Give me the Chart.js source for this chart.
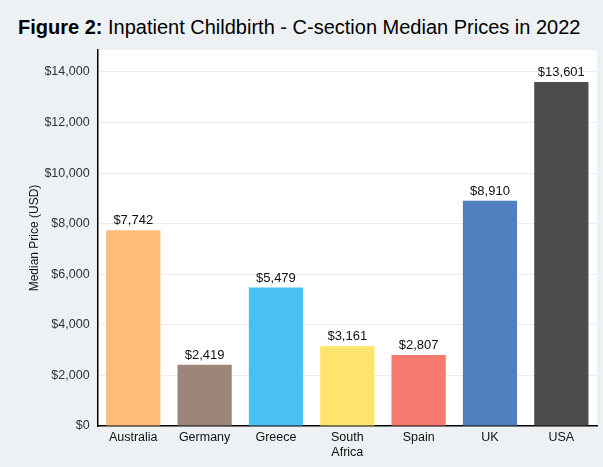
<!DOCTYPE html>
<html>
    <head>
        <title>C-section Median Prices</title>
        <script src="https://cdn.jsdelivr.net/npm/chart.js"></script>
        <style>
            html, body { margin: 0; padding: 0; background: #edf1f4; }
            .wrap { position: relative; width: 603px; height: 467px; }
            .title { position: absolute; left: 18px; top: 16px; font-family: "Liberation Sans", Arial, sans-serif; font-size: 20px; color: #000; white-space: nowrap; }
            canvas { position: absolute; left: 0; top: 0; }
        </style>
    </head>
    <body>
        <div class="wrap">
            <div class="title"><b>Figure 2:</b> Inpatient Childbirth - C-section Median Prices in 2022</div>
            <canvas id="priceChart" width="603" height="467"></canvas>
        </div>
        <script>
            const countries = ['Australia', 'Germany', 'Greece', ['South', 'Africa'], 'Spain', 'UK', 'USA'];
            const medianPrices = [7742, 2419, 5479, 3161, 2807, 8910, 13601];
            const barColors = ['#ffbb78', '#9e857a', '#4bbef2', '#ffe46e', '#f67b6e', '#5080c0', '#4c4c4c'];
            const yTicks = [0, 2000, 4000, 6000, 8000, 10000, 12000, 14000];

            const fmt = v => '$' + v.toLocaleString('en-US');

            // white plot area + value labels above bars
            const plotBg = {
                id: 'plotBg',
                beforeDraw(chart) {
                    const { ctx, chartArea: a } = chart;
                    ctx.save();
                    ctx.fillStyle = '#ffffff';
                    ctx.fillRect(a.left, a.top, a.right - a.left, a.bottom - a.top);
                    ctx.restore();
                }
            };
            const valueLabels = {
                id: 'valueLabels',
                afterDatasetsDraw(chart) {
                    const { ctx } = chart;
                    const meta = chart.getDatasetMeta(0);
                    ctx.save();
                    ctx.font = '13px "Liberation Sans", Arial, sans-serif';
                    ctx.fillStyle = '#111';
                    ctx.textAlign = 'center';
                    ctx.textBaseline = 'bottom';
                    meta.data.forEach((bar, i) => {
                        ctx.fillText(fmt(medianPrices[i]), bar.x, bar.y - 3);
                    });
                    ctx.restore();
                }
            };

            Chart.defaults.font.family = '"Liberation Sans", Arial, sans-serif';

            new Chart(document.getElementById('priceChart'), {
                type: 'bar',
                data: {
                    labels: countries,
                    datasets: [{
                        data: medianPrices,
                        backgroundColor: barColors,
                        categoryPercentage: 0.76,
                        barPercentage: 1
                    }]
                },
                options: {
                    responsive: false,
                    animation: false,
                    layout: { padding: { top: 50, right: 6, left: 23, bottom: 3 } },
                    plugins: {
                        legend: { display: false },
                        tooltip: { enabled: false }
                    },
                    scales: {
                        x: {
                            grid: { display: false, drawTicks: false },
                            border: { color: '#000', width: 1.5 },
                            ticks: { color: '#111', font: { size: 12.5 }, padding: 4, maxRotation: 0, autoSkip: false }
                        },
                        y: {
                            min: 0,
                            max: 14870,
                            afterBuildTicks: axis => { axis.ticks = yTicks.map(v => ({ value: v })); },
                            grid: { color: '#ececec', drawTicks: false },
                            border: { color: '#000', width: 1.5 },
                            title: { display: true, text: 'Median Price (USD)', color: '#111', font: { size: 12 }, padding: { top: 4, bottom: -5 } },
                            ticks: {
                                color: '#333',
                                font: { size: 12.5 },
                                padding: 8,
                                callback: v => fmt(v)
                            }
                        }
                    }
                },
                plugins: [plotBg, valueLabels]
            });
        </script>
    </body>
</html>
